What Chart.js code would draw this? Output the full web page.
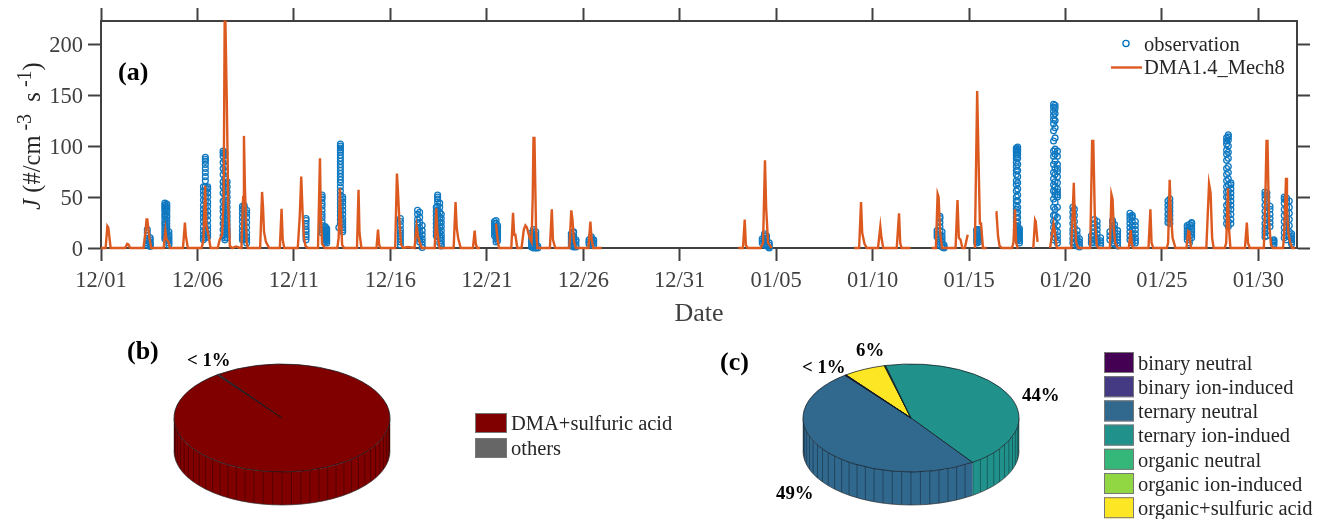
<!DOCTYPE html>
<html><head><meta charset="utf-8">
<style>html,body{margin:0;padding:0;background:#fff;overflow:hidden}
canvas{position:absolute;display:block}
</style>
<script src="https://cdn.jsdelivr.net/npm/chart.js@4/dist/chart.umd.min.js"></script>
</head><body>
<canvas id="a" width="1317" height="330" style="left:0;top:0;width:1317px;height:330px"></canvas>
<canvas id="b" width="680" height="190" style="left:0;top:329px;width:680px;height:190px"></canvas>
<canvas id="c" width="627" height="190" style="left:690px;top:329px;width:627px;height:190px"></canvas>
<script>
const dateTickLabels = ['12/01','12/06','12/11','12/16','12/21','12/26','12/31','01/05','01/10','01/15','01/20','01/25','01/30'];
const yTickValues = [0,50,100,150,200];

// model J: day index since 12/01, null breaks the line
const modelDays = [0,0.24,0.33,0.38,0.5, 1.25,1.36,1.42,1.52, 2.2,2.3,2.36,2.4,2.5,2.6, 3.25,3.34,3.39,3.5,3.57, 4.25,4.35,4.4,4.5,
 5.22,5.31,5.4,5.46,5.55,5.68, 6.05,6.15,6.28,6.36,6.41,6.45,6.52,6.6,6.68,6.8,7.0,7.15, 7.28,7.37,7.41,7.46,7.55,7.62,
 8.25,8.35,8.4,8.45,8.55,8.72, 9.27,9.36,9.42,9.5, 10.2,10.3,10.38,10.45,10.52,10.6,10.72, 11.25,11.35,11.4,11.46,11.6,
 12.25,12.32,12.38,12.44,12.5,12.6, 13.27,13.35,13.4,13.5, 14.28,14.36,14.42,14.5, 15.25,15.34,15.38,15.46,15.55,15.65,15.9,16.1,
 16.25,16.36,16.43,16.53,16.63, 17.3,17.38,17.44,17.55, 18.28,18.38,18.44,18.52,18.65, 19.28,19.37,19.43,19.5,19.65,19.66,
 20.48,20.55,20.63, 21.27,21.36,21.42,21.48,21.58, 21.8,21.92,22.0,22.08,22.22,22.32,22.38,22.42,22.47,22.55,22.62,
 23.27,23.37,23.43,23.55, 24.28,24.38,24.44,24.52,24.62, 25.27,25.37,25.43,25.52,25.95,25.96,
 33.04,33.28,33.37,33.43,33.52, 34.2,34.32,34.42,34.48,34.58,34.77,34.78,
 39.05,39.3,39.4,39.46,39.58,39.7, 40.28,40.4,40.46,40.55, 41.25,41.37,41.43,41.5,41.97,41.98,
 43.06,43.28,43.37,43.42,43.5,43.6, 44.3,44.4,44.47,44.56,44.65,44.78,44.93,44.94,
 45.3,45.42,45.46,45.56,45.62,45.72,45.9,45.91,
 46.38,46.42,46.5,46.58,46.7, 47.22,47.3,47.38,47.44,47.52,47.55,47.56,
 48.33,48.42,48.46,48.55,48.56, 49.2,49.38,49.45,49.55, 50.3,50.43,50.48,50.55,50.65, 51.28,51.38,51.44,51.52,51.62,51.7,
 52.3,52.38,52.44,52.5,52.58,52.7, 53.28,53.38,53.44,53.5, 54.3,54.4,54.46,54.55, 55.25,55.32,55.4,55.46,55.55,55.7,
 56.27,56.36,56.42,56.5, 57.3,57.44,57.52,57.6,57.68, 58.25,58.33,58.42,58.47,58.55, 59.3,59.4,59.46,59.55,
 60.28,60.36,60.42,60.47,60.55,60.65,60.75, 61.28,61.35,61.43,61.48,61.55,61.65,61.75,61.9];
const modelJ = [0,0,21.5,20,0, 0,4,3.5,0, 0,14,28,28,11,0, 0,17,9,6,0, 0,25,12,0,
 0,8,61,22,15,0, 0,8,13,50,222,222,145,40,2,0,1.5,0.5, 0,50,110,60,5,0,
 0,55,40,16,6,0, 0,38.5,8,0, 0,30,70,35,10,2,0, 0,88,30,4,0,
 0,10,58.5,30,3,0, 0,57,15,0, 0,18,3,0, 0,73,61,30,4,0,1,0.5,
 0,21,12,5,0, 0,39,15,0, 0,45,20,9,0, 0,17,4,0,0,null,
 24,10,0, 0,34.6,13,13,0, 0,18,22,20,10,6,50,108,108,20,0,
 0,38,8,0, 0,37,28,6,0, 0,26,9,0,0,null,
 0,0,28,3,0, 0,5,86,40,5,0,null,
 0,0,45,15,4,0, 0,21,10,0, 0,34,5,0,0,null,
 0,0,53,50,15,0, 0,47,10,8,0,0,13,null,
 0,154,154,24,24,0,0,null,
 35,35,12,2,0, 0,5,38,5,0,0,null,
 0,27,25,6,null, 0,23.5,15,0, 0,64,30,6,0, 0,105,105,30,3,0,
 0,52.6,48,20,5,0, 0,17.6,4,0, 0,38,5,0, 0,5,67,35,10,0,
 0,16.7,16,0, 0,63,54,10,0, 0,5,58.5,20,0, 0,25,5,0,
 0,50,105,105,25,3,0, 0,20,69,40,15,5,0,0];

// observed J, one list per sampling column
const obsDays = [2.40,2.55,3.31,3.41,3.52,5.31,5.41,5.53,6.33,6.42,6.54,7.33,7.42,7.55,10.63,11.46,11.62,11.70,12.33,12.41,12.53,
 15.52,16.41,16.52,16.65,17.38,17.45,17.56,17.64,20.40,20.48,20.56,22.32,22.42,22.54,22.64,24.38,24.50,24.62,25.30,25.42,25.54,
 34.28,34.40,34.50,34.64,43.34,43.49,43.60,43.70,45.40,45.50,47.45,47.52,47.61,49.38,49.46,49.58,50.38,50.46,50.60,50.72,
 51.34,51.50,51.64,51.82,52.30,52.44,52.54,52.70,53.34,53.46,53.62,55.31,55.41,56.31,56.42,56.54,58.35,58.44,58.57,
 60.34,60.44,60.60,60.80,61.34,61.46,61.60,61.72];
const obsJ = [
 [3,5,7,9,12,15,18],[1.5,3,4,6,8,10],
 [9,11,14,17,20,23,25,28,31,33,36,38,40,42,44],[10,12,15,18,21,24,27,30,32,35,37,39,41,43],[3,5,7,9,11,13,16],
 [8,10,13,17,21,26,30,34,38,42,47,52,56,60],[10,13,18,24,30,35,40,46,50,55,60,66,70,74,78,82,85,87,89],[11,14,18,22,27,32,36,41,45,50,54,58,60],
 [12,18,24,30,36,40,46,54,60,65,72,78,84,90,93,95],[8,10,13,16,20,24,28,33,38,42,47,52,58,63,68,75,80,86,92,94],[10,13,16,19,23,27,31,35,40,45,50,55,60,65],
 [8,10,13,17,21,26,30,34,38,41],[9,12,15,19,24,28,33,37,40,42],[5,8,11,15,20,25,30,34,37],
 [8,11,13,16,18,21,24,27,29],
 [15,18,22,26,30,33,37,41,44,48,50,52],[6,8,10,12,14,16,18,20,21],[5,7,9,11,13,15,17,19],
 [20],[24,28,32,36,40,44,48,52,56,60,64,67,70,73,76,79,82,85,88,91,94,96,98,100,102],[16,18,20,23,26,29,33,37,41,45,48,50],
 [3,6,9,12,15,18,22,26,29],
 [11,14,17,20,24,28,33,37],[6,9,12,16,20,25,30,35],[0.5,3,6,9,13,17,22],
 [12,16,20,24,28,32,36,40],[11,15,19,24,29,33,37,41,45,48,50,52],[5,10,15,20,25,30,35,40,44],[2,4,7,10,13,17,21,25,29,33],
 [12,15,18,21,24,26],[6,9,12,15,18,21,24,27],[7,10,13,16,19,22],
 [1,3,6,9,12,15],[0,2,5,8,11,14,16,18],[0,2,4,7,10,13,16],[0,2],
 [2,5,8,11,14],[1,3,6,9,12,15,16],[1,3,6,8],
 [4,6,8],[3,5,7,9,11],[3,5,7,8],
 [5,7,9],[3,6,9,12,14],[2,4,6,8,10,12],[0,1,3,5],
 [11,14,17],[3,6,9,13,17,21,25,29,31],[1,3,6,9,12,16],[0,1,3],
 [5,7,9,11,13,15,17,18],[6,8,10,12,14,16,18],
 [18,22,26,30,34,38,42,46,50,56,62,66,72,76,80,84,88,91,94,96,98],[8,11,14,17,21,25,30,35,40,46,52,58,64,70,76,82,88,92,95,97,99],[5,7,9,11,13,15,17,19],
 [8,14,20,26,32,40,48,56,62,68,74,82,90,95,105,115,122,126,130,134,138,141],[10,18,25,32,38,45,52,55,60,65,72,78,85,92,97,108,118,125,132,137,140],[5,8,12,16,22,30,40,50,52,55,58,64,70,75,78,82,90,95],
 [5,9,14,18,24,30,35,40],[6,10,15,20,26,32,38],[2,4,7,10,13,17],[1,3,6,9],
 [5,8,12],[5,8,12,16,20,24,28],[5,7,10,14,18,22,26],[3,5,7,10],
 [8,12,16],[5,9,13,17,21,25,27],[4,7,11,15,19,23],[2,5,8,11,14,17],
 [8,12,16,20,24,28,31,34],[5,8,11,14,18,22,26,30,32],[5,7,10,14,18,22,26],
 [25,29,33,38,42,46],[24,28,32,36,40,44,48],
 [8,11,14,17,20,22],[5,8,12,16,20,23],[10,13,16,19,22,24,25],
 [24,30,36,42,50,55,60,66,72,78,86,92,96,102,105,108],[21,26,32,38,44,50,56,62,68,74,80,88,94,100,106,109,111],[24,28,33,38,42,46,50,54,58,62,64],
 [11,15,19,24,30,36,42,48,52,55],[12,17,22,28,34,40,45,50,54],[21,25,29,33,38,41],[3,4.5,6,7,8],
 [10,15,20,26,32,38,44,48,50],[8,12,17,22,28,34,40,46,49],[11,16,22,28,34,40,46],[4,6,8,10,12,14]];

const seriesNames = ['observation','DMA1.4_Mech8'];
const pieBLabels = ['DMA+sulfuric acid','others'];
const pieBValues = [99.7,0.3];
const pieBColors = ['#800000','#666666'];
const pieCLabels = ['binary neutral','binary ion-induced','ternary neutral','ternary ion-indued','organic neutral','organic ion-induced','organic+sulfuric acid'];
const pieCValues = [0.1,0.1,49.2,44.2,0.1,0.1,6.3];
const pieCColors = ['#440154','#443983','#31688E','#21918C','#35B779','#90D743','#FDE725'];

const SERIF = '"Liberation Serif","Times New Roman",serif';
const INK = '#262626', AXIS = '#404040';

function axisGrid(){ return {drawOnChartArea:false,drawTicks:true,tickLength:13,tickWidth:2,tickColor:AXIS}; }
const axisBorder = {display:true,color:AXIS,width:2};

const axisDecor = {
  id:'axisDecor',
  afterDraw(ch){
    const c = ch.ctx; c.save();
    // y axis title
    c.translate(34,136); c.rotate(-Math.PI/2);
    const segs = [['italic 24.5px '+SERIF,'J',0],['24.5px '+SERIF,' (#/cm',0],['20px '+SERIF,' -3',-8],['24.5px '+SERIF,'  s',0],['20px '+SERIF,' -1',-8],['24.5px '+SERIF,')',0]];
    let tot=0; segs.forEach(s=>{c.font=s[0]; tot+=c.measureText(s[1]).width;});
    let x=-tot/2; c.fillStyle=INK; c.textBaseline='middle'; c.textAlign='left';
    segs.forEach(s=>{c.font=s[0]; c.fillText(s[1],x,s[2]); x+=c.measureText(s[1]).width;});
    c.restore(); c.save();
    // panel tag
    c.fillStyle='#000'; c.font='bold 26px '+SERIF; c.textBaseline='middle'; c.textAlign='left';
    c.fillText('(a)',118,73);
    // legend
    c.fillStyle=INK; c.font='20.5px '+SERIF;
    c.fillText(seriesNames[0],1144,46); c.fillText(seriesNames[1],1144,69);
    c.strokeStyle='#0072BD'; c.lineWidth=1.3; c.beginPath(); c.arc(1126,43.5,3.1,0,Math.PI*2); c.stroke();
    c.strokeStyle='#DC5A20'; c.lineWidth=2.4; c.beginPath(); c.moveTo(1111,67.5); c.lineTo(1142,67.5); c.stroke();
    c.restore();
  }
};

new Chart(document.getElementById('a'),{
  type:'scatter',
  data:{datasets:[
    {label:seriesNames[1],order:0,showLine:true,spanGaps:false,pointRadius:0,borderColor:'#DC5A20',borderWidth:2.4,clip:8,tension:0,
     data:modelDays.map((d,i)=>({x:d,y:modelJ[i]}))},
    {label:seriesNames[0],order:1,showLine:false,pointRadius:2.9,pointBorderWidth:1.3,pointBackgroundColor:'rgba(0,0,0,0)',pointBorderColor:'#0F78C0',clip:8,
     data:obsDays.flatMap((d,i)=>obsJ[i].map(v=>({x:d,y:v})))}
  ]},
  options:{responsive:false,animation:false,devicePixelRatio:1,layout:{padding:0},
    plugins:{legend:{display:false},tooltip:{enabled:false}},
    scales:{
      x:{type:'linear',position:'bottom',min:0,max:62,grid:axisGrid(),border:axisBorder,
         afterFit:s=>{s.height=82;},
         afterBuildTicks:s=>{s.ticks=dateTickLabels.map((_,i)=>({value:i*5}));},
         ticks:{includeBounds:false,autoSkip:false,maxRotation:0,padding:7,color:AXIS,font:{family:SERIF,size:22.5},
           callback:v=>dateTickLabels[v/5]},
         title:{display:true,text:'Date',color:AXIS,font:{family:SERIF,size:26},padding:{top:4,bottom:0}}},
      xTop:{type:'linear',position:'top',min:0,max:62,grid:axisGrid(),border:axisBorder,
         afterFit:s=>{s.height=21;},
         afterBuildTicks:s=>{s.ticks=dateTickLabels.map((_,i)=>({value:i*5}));},
         ticks:{display:false}},
      y:{type:'linear',position:'left',min:0,max:222.7,grid:axisGrid(),border:axisBorder,
         afterFit:s=>{s.width=101;},
         afterBuildTicks:s=>{s.ticks=yTickValues.map(v=>({value:v}));},
         ticks:{includeBounds:false,padding:5,labelOffset:2,color:AXIS,font:{family:SERIF,size:22.5}}},
      yRight:{type:'linear',position:'right',min:0,max:222.7,grid:axisGrid(),border:axisBorder,
         afterFit:s=>{s.width=20;},
         afterBuildTicks:s=>{s.ticks=yTickValues.map(v=>({value:v}));},
         ticks:{display:false}}
    }},
  plugins:[axisDecor]
});

// 3D look: the library's arcs are squashed, the rim is built from their angles
const SQUASH=0.5, DEPTH=33;
const tilt = {
  id:'tilt',
  beforeDatasetsDraw(ch){
    const arcs=ch.getDatasetMeta(0).data, c=ch.ctx;
    if(!arcs.length) return;
    const cx=arcs[0].x, cy=arcs[0].y, R=arcs[0].outerRadius;
    const parts=[];
    arcs.forEach(a=>{
      [-2*Math.PI,0,2*Math.PI].forEach(off=>{
        const s=Math.max(a.startAngle+off,0), e=Math.min(a.endAngle+off,Math.PI);
        if(e>s) parts.push([s,e,a.options.backgroundColor]);
      });
    });
    c.save();
    parts.forEach(([s,e,col])=>{
      c.beginPath();
      c.ellipse(cx,cy,R,R*SQUASH,0,s,e,false);
      c.ellipse(cx,cy+DEPTH,R,R*SQUASH,0,e,s,true);
      c.closePath(); c.fillStyle=col; c.fill();
    });
    c.strokeStyle='rgba(0,0,0,0.42)'; c.lineWidth=0.8;
    for(let deg=0;deg<=180;deg+=5){
      const t=deg*Math.PI/180, px=cx+R*Math.cos(t), py=cy+R*SQUASH*Math.sin(t);
      c.beginPath(); c.moveTo(px,py); c.lineTo(px,py+DEPTH); c.stroke();
    }
    c.strokeStyle='#333'; c.lineWidth=0.7;
    c.beginPath(); c.ellipse(cx,cy+DEPTH,R,R*SQUASH,0,0,Math.PI,false); c.stroke();
    c.restore();
    c.save();
    c.translate(cx,cy); c.scale(1,SQUASH); c.translate(-cx,-cy);
  },
  afterDatasetsDraw(ch){ if(ch.getDatasetMeta(0).data.length) ch.ctx.restore(); }
};

function pieNotes(cfg){
  return {id:'pieNotes',afterDraw(ch){
    const c=ch.ctx; c.save(); c.textBaseline='middle'; c.textAlign='left';
    cfg.labels.forEach((t,i)=>{
      const y=cfg.ly+i*cfg.step;
      c.fillStyle=cfg.colors[i]; c.fillRect(cfg.lx,y,cfg.bw,cfg.bh);
      c.strokeStyle='#777'; c.lineWidth=1; c.strokeRect(cfg.lx+.5,y+.5,cfg.bw-1,cfg.bh-1);
      c.fillStyle=INK; c.font='20.5px '+SERIF; c.fillText(t,cfg.lx+cfg.bw+4,y+cfg.bh/2+2);
    });
    c.fillStyle='#000'; c.font='bold 26px '+SERIF; c.fillText(cfg.tag[0],cfg.tag[1],cfg.tag[2]);
    c.font='bold 18.8px '+SERIF; cfg.notes.forEach(n=>c.fillText(n[0],n[1],n[2]));
    c.restore();
  }};
}

function pie(id,labels,values,colors,rotation,padRight,notes){
  const order=values.map((_,i)=>i).reverse();
  new Chart(document.getElementById(id),{
    type:'pie',
    data:{labels:order.map(i=>labels[i]),datasets:[{data:order.map(i=>values[i]),backgroundColor:order.map(i=>colors[i]),
      borderColor:'#111a22',borderWidth:1,radius:108,clip:false}]},
    options:{responsive:false,animation:false,devicePixelRatio:1,rotation:rotation,
      layout:{padding:{right:padRight,bottom:12}},plugins:{legend:{display:false},tooltip:{enabled:false}}},
    plugins:[tilt,pieNotes(notes)]
  });
}

pie('b',pieBLabels,pieBValues,pieBColors,-37,116,{labels:pieBLabels,colors:pieBColors,lx:475,ly:84,step:25,bw:32,bh:20,
  tag:['(b)',127,23],notes:[['< 1%',187,32]]});
pie('c',pieCLabels,pieCValues,pieCColors,-37,185,{labels:pieCLabels,colors:pieCColors,lx:414,ly:23,step:24.2,bw:30,bh:21,
  tag:['(c)',30,34],notes:[['< 1%',112,39],['6%',166,22],['44%',332,67],['49%',86,165]]});
</script>
</body></html>
